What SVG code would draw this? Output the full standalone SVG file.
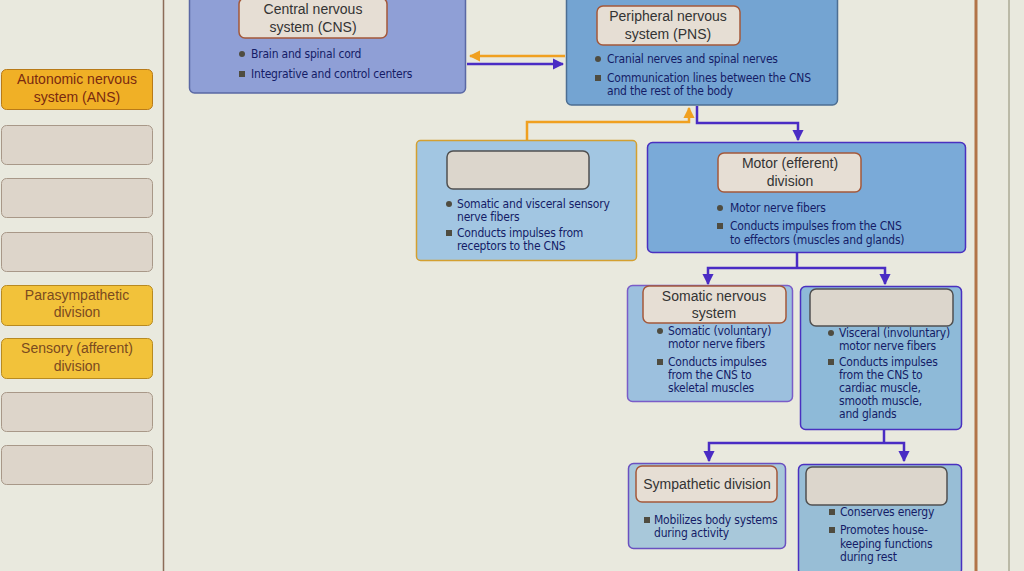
<svg xmlns="http://www.w3.org/2000/svg" width="1024" height="571" viewBox="0 0 1024 571">
<defs>
<marker id="ap" viewBox="0 0 10 10" refX="9" refY="5" markerWidth="4.5" markerHeight="4.5" orient="auto-start-reverse" markerUnits="strokeWidth"><path d="M0,0 L10,5 L0,10 z" fill="#4a2cc4"/></marker>
<marker id="ao" viewBox="0 0 10 10" refX="9" refY="5" markerWidth="4.5" markerHeight="4.5" orient="auto-start-reverse" markerUnits="strokeWidth"><path d="M0,0 L10,5 L0,10 z" fill="#f0a020"/></marker>
</defs>
<style>
.bg{fill:#e9e9de}
.title{fill:#e6ded4;stroke:#a4583a;stroke-width:1.5}
.empty{fill:#dcd6cc;stroke:#505050;stroke-width:1.5}
.tt{font-family:"Liberation Sans",Arial,sans-serif;font-size:14px;fill:#333;text-anchor:middle}
.bt{font-family:"DejaVu Sans Condensed","DejaVu Sans",sans-serif;font-size:12px;fill:#141c66;letter-spacing:-0.2px}
.dot{fill:#4f4c40}
.lbox{fill:#ddd5ca;stroke:#a89888;stroke-width:1}
.ybox{fill:#f2c23a;stroke:#b88a20;stroke-width:1}
.obox{fill:#f0b026;stroke:#b87a18;stroke-width:1}
.lt{font-family:"Liberation Sans",Arial,sans-serif;font-size:14px;text-anchor:middle}
.cp{fill:none;stroke:#4a2cc4;stroke-width:2.5}
.co{fill:none;stroke:#f0a020;stroke-width:2.5}
</style>
<rect class="bg" x="0" y="0" width="1024" height="571"/>
<line x1="163.5" y1="0" x2="163.5" y2="571" stroke="#8c6c58" stroke-width="1.5"/>
<line x1="976" y1="0" x2="976" y2="571" stroke="#b27448" stroke-width="3"/>
<line x1="1009" y1="0" x2="1009" y2="571" stroke="#8c8a70" stroke-width="1"/>

<g id="left-labels">
<g id="ans"><rect class="obox" x="1.5" y="69.5" width="151" height="40" rx="5"/><text class="lt" fill="#7a2a10" x="77" y="84">Autonomic nervous</text><text class="lt" fill="#7a2a10" x="77" y="102">system (ANS)</text></g>
<g id="blank1"><rect class="lbox" x="1.5" y="125.5" width="151" height="39" rx="5"/></g>
<g id="blank2"><rect class="lbox" x="1.5" y="178.5" width="151" height="39" rx="5"/></g>
<g id="blank3"><rect class="lbox" x="1.5" y="232.5" width="151" height="39" rx="5"/></g>
<g id="parasym-label"><rect class="ybox" x="1.5" y="285.5" width="151" height="40" rx="5"/><text class="lt" fill="#7a4a20" x="77" y="300">Parasympathetic</text><text class="lt" fill="#7a4a20" x="77" y="317">division</text></g>
<g id="sensory-label"><rect class="ybox" x="1.5" y="338.5" width="151" height="40" rx="5"/><text class="lt" fill="#7a4a20" x="77" y="353">Sensory (afferent)</text><text class="lt" fill="#7a4a20" x="77" y="371">division</text></g>
<g id="blank4"><rect class="lbox" x="1.5" y="392.5" width="151" height="39" rx="5"/></g>
<g id="blank5"><rect class="lbox" x="1.5" y="445.5" width="151" height="39" rx="5"/></g>
</g>

<g id="connectors">
<line class="co" x1="565" y1="56" x2="470" y2="56" marker-end="url(#ao)"/>
<line class="cp" x1="467" y1="64" x2="563" y2="64" marker-end="url(#ap)"/>
<polyline class="co" points="527,140 527,122 689,122 689,108" marker-end="url(#ao)"/>
<polyline class="cp" points="697,106 697,123 798,123 798,140" marker-end="url(#ap)"/>
<line class="cp" x1="797" y1="252" x2="797" y2="268"/>
<polyline class="cp" points="708,284 708,268 885,268 885,284" marker-start="url(#ap)" marker-end="url(#ap)"/>
<line class="cp" x1="884" y1="430" x2="884" y2="443"/>
<polyline class="cp" points="709,461 709,443 904,443 904,461" marker-start="url(#ap)" marker-end="url(#ap)"/>
</g>

<g id="cns">
<rect x="189.5" y="-6" width="276" height="99" rx="5" fill="#8f9fd6" stroke="#5a68a4" stroke-width="1.5"/>
<rect class="title" x="239" y="-2" width="148" height="40" rx="6"/>
<text class="tt" x="313" y="14">Central nervous</text>
<text class="tt" x="313" y="32">system (CNS)</text>
<circle class="dot" cx="242" cy="54" r="3"/>
<text class="bt" x="251" y="58">Brain and spinal cord</text>
<rect class="dot" x="239" y="71" width="6" height="6"/>
<text class="bt" x="251" y="78">Integrative and control centers</text>
</g>

<g id="pns">
<rect x="566.5" y="-6" width="271" height="111" rx="5" fill="#74a4d2" stroke="#4c6e92" stroke-width="1.5"/>
<rect class="title" x="597" y="6" width="143" height="39" rx="6"/>
<text class="tt" x="668" y="21">Peripheral nervous</text>
<text class="tt" x="668" y="39">system (PNS)</text>
<circle class="dot" cx="598" cy="59" r="3"/>
<text class="bt" x="607" y="63">Cranial nerves and spinal nerves</text>
<rect class="dot" x="595" y="75" width="6" height="6"/>
<text class="bt" x="607" y="82">Communication lines between the CNS</text>
<text class="bt" x="607" y="95">and the rest of the body</text>
</g>

<g id="sensory">
<rect x="416.5" y="140.5" width="220" height="120" rx="4" fill="#a2c6e2" stroke="#d4a030" stroke-width="1.5"/>
<rect class="empty" x="447" y="151" width="142" height="38" rx="6"/>
<circle class="dot" cx="449" cy="204" r="3"/>
<text class="bt" x="457" y="208">Somatic and visceral sensory</text>
<text class="bt" x="457" y="221">nerve fibers</text>
<rect class="dot" x="446" y="230" width="6" height="6"/>
<text class="bt" x="457" y="237">Conducts impulses from</text>
<text class="bt" x="457" y="250">receptors to the CNS</text>
</g>

<g id="motor">
<rect x="647.5" y="142.5" width="318" height="110" rx="5" fill="#7aaad8" stroke="#4a30c0" stroke-width="1.5"/>
<rect class="title" x="718" y="153" width="143" height="39" rx="6"/>
<text class="tt" x="790" y="168">Motor (efferent)</text>
<text class="tt" x="790" y="186">division</text>
<circle class="dot" cx="720" cy="208" r="3"/>
<text class="bt" x="730" y="212">Motor nerve fibers</text>
<rect class="dot" x="717" y="223" width="6" height="6"/>
<text class="bt" x="730" y="230">Conducts impulses from the CNS</text>
<text class="bt" x="730" y="244">to effectors (muscles and glands)</text>
</g>

<g id="somatic">
<rect x="627.5" y="285.5" width="165" height="116" rx="5" fill="#9cc0de" stroke="#7a5cc8" stroke-width="1.5"/>
<rect class="title" x="643" y="286" width="143" height="37" rx="6"/>
<text class="tt" x="714" y="301">Somatic nervous</text>
<text class="tt" x="714" y="318">system</text>
<circle class="dot" cx="660" cy="331" r="3"/>
<text class="bt" x="668" y="335">Somatic (voluntary)</text>
<text class="bt" x="668" y="348">motor nerve fibers</text>
<rect class="dot" x="657" y="359" width="6" height="6"/>
<text class="bt" x="668" y="366">Conducts impulses</text>
<text class="bt" x="668" y="379">from the CNS to</text>
<text class="bt" x="668" y="392">skeletal muscles</text>
</g>

<g id="visceral">
<rect x="800.5" y="286.5" width="161" height="143" rx="5" fill="#8ebad8" stroke="#4a30c0" stroke-width="1.5"/>
<rect class="empty" x="810" y="289" width="143" height="37" rx="6"/>
<circle class="dot" cx="831" cy="333" r="3"/>
<text class="bt" x="839" y="337">Visceral (involuntary)</text>
<text class="bt" x="839" y="350">motor nerve fibers</text>
<rect class="dot" x="828" y="359" width="6" height="6"/>
<text class="bt" x="839" y="366">Conducts impulses</text>
<text class="bt" x="839" y="379">from the CNS to</text>
<text class="bt" x="839" y="392">cardiac muscle,</text>
<text class="bt" x="839" y="405">smooth muscle,</text>
<text class="bt" x="839" y="418">and glands</text>
</g>

<g id="sympathetic">
<rect x="628.5" y="463.5" width="157" height="85" rx="5" fill="#a8c8da" stroke="#6a50c0" stroke-width="1.5"/>
<rect class="title" x="636" y="466" width="141" height="36" rx="6"/>
<text class="tt" x="707" y="489">Sympathetic division</text>
<rect class="dot" x="644" y="517" width="6" height="6"/>
<text class="bt" x="654" y="524">Mobilizes body systems</text>
<text class="bt" x="654" y="537">during activity</text>
</g>

<g id="parasympathetic">
<rect x="798.5" y="464.5" width="163" height="110" rx="5" fill="#98bed6" stroke="#4a30c0" stroke-width="1.5"/>
<rect class="empty" x="806" y="467" width="141" height="38" rx="6"/>
<rect class="dot" x="829" y="509" width="6" height="6"/>
<text class="bt" x="840" y="516">Conserves energy</text>
<rect class="dot" x="829" y="527" width="6" height="6"/>
<text class="bt" x="840" y="534">Promotes house-</text>
<text class="bt" x="840" y="548">keeping functions</text>
<text class="bt" x="840" y="561">during rest</text>
</g>
</svg>
